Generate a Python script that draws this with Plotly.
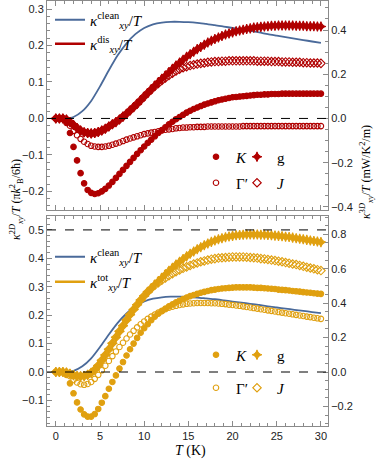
import plotly.graph_objects as go

# temperature grid of the symbol series (K)
T = [0.0, 0.4, 0.8, 1.2, 1.6, 2.0, 2.4, 2.8, 3.2, 3.6,
     4.0, 4.4, 4.8, 5.2, 5.6, 6.0, 6.4, 6.8, 7.2, 7.6,
     8.0, 8.4, 8.8, 9.2, 9.6, 10.0, 10.4, 10.8, 11.2, 11.6,
     12.0, 12.4, 12.8, 13.2, 13.6, 14.0, 14.4, 14.8, 15.2, 15.6,
     16.0, 16.4, 16.8, 17.2, 17.6, 18.0, 18.4, 18.8, 19.2, 19.6,
     20.0, 20.4, 20.8, 21.2, 21.6, 22.0, 22.4, 22.8, 23.2, 23.6,
     24.0, 24.4, 24.8, 25.2, 25.6, 26.0, 26.4, 26.8, 27.2, 27.6,
     28.0, 28.4, 28.8, 29.2, 29.6, 30.0]

# clean curve (same in both panels)
T_CLEAN = [0, 1, 2, 3, 4, 5, 6, 7, 8, 9, 10, 11, 12, 13, 14, 15, 16, 17, 18, 19,
           20, 21, 22, 23, 24, 25, 26, 27, 28, 29, 30]
CLEAN = [0.0, 0.0, 0.004, 0.02, 0.048, 0.088, 0.132, 0.173, 0.206, 0.231,
         0.248, 0.258, 0.263, 0.265, 0.265, 0.264, 0.262, 0.259, 0.256, 0.252,
         0.248, 0.244, 0.24, 0.236, 0.231, 0.227, 0.223, 0.219, 0.215, 0.211, 0.207]

# top panel: kappa_dis / T, in units of pi kB^2 / 6 hbar
K_DIS = [0, 0, 0, -0.012, -0.04, -0.078, -0.115, -0.15, -0.178, -0.196,
         -0.204, -0.207, -0.205, -0.2, -0.193, -0.184, -0.174, -0.163, -0.152, -0.141,
         -0.13, -0.119, -0.108, -0.097, -0.087, -0.077, -0.067, -0.058, -0.049, -0.04,
         -0.032, -0.024, -0.016, -0.009, -0.002, 0.004, 0.01, 0.016, 0.021, 0.026,
         0.03, 0.034, 0.038, 0.041, 0.044, 0.047, 0.05, 0.052, 0.054, 0.056,
         0.058, 0.059, 0.06, 0.061, 0.062, 0.063, 0.064, 0.065, 0.065, 0.066,
         0.066, 0.067, 0.067, 0.067, 0.068, 0.068, 0.068, 0.068, 0.068, 0.068,
         0.068, 0.068, 0.068, 0.068, 0.068, 0.068]
GP_DIS = [0, 0, -0.001, -0.008, -0.02, -0.034, -0.046, -0.056, -0.064, -0.07,
          -0.075, -0.077, -0.078, -0.078, -0.077, -0.075, -0.072, -0.069, -0.066, -0.062,
          -0.058, -0.055, -0.052, -0.049, -0.046, -0.043, -0.041, -0.039, -0.037, -0.035,
          -0.033, -0.031, -0.03, -0.029, -0.027, -0.026, -0.025, -0.025, -0.024, -0.024,
          -0.023, -0.023, -0.023, -0.022, -0.022, -0.022, -0.022, -0.022, -0.022, -0.022,
          -0.022, -0.022, -0.022, -0.021, -0.021, -0.021, -0.021, -0.021, -0.021, -0.021,
          -0.021, -0.021, -0.021, -0.021, -0.021, -0.021, -0.021, -0.021, -0.021, -0.021,
          -0.021, -0.021, -0.021, -0.021, -0.021, -0.021]
G_DIS = [0, 0, 0, -0.003, -0.01, -0.018, -0.026, -0.033, -0.038, -0.04,
         -0.041, -0.04, -0.037, -0.033, -0.028, -0.022, -0.016, -0.01, -0.003, 0.005,
         0.013, 0.022, 0.031, 0.04, 0.05, 0.06, 0.07, 0.08, 0.09, 0.1,
         0.109, 0.118, 0.127, 0.136, 0.145, 0.153, 0.161, 0.169, 0.176, 0.183,
         0.19, 0.196, 0.202, 0.208, 0.213, 0.218, 0.222, 0.226, 0.23, 0.233,
         0.236, 0.239, 0.241, 0.243, 0.245, 0.247, 0.249, 0.25, 0.251, 0.252,
         0.253, 0.254, 0.254, 0.255, 0.255, 0.255, 0.255, 0.255, 0.254, 0.254,
         0.254, 0.253, 0.253, 0.253, 0.252, 0.252]
J_DIS = [0, 0, 0, -0.003, -0.01, -0.018, -0.026, -0.033, -0.038, -0.04,
         -0.041, -0.04, -0.037, -0.033, -0.028, -0.022, -0.016, -0.01, -0.003, 0.005,
         0.013, 0.022, 0.031, 0.04, 0.05, 0.06, 0.07, 0.079, 0.088, 0.096,
         0.104, 0.111, 0.118, 0.124, 0.13, 0.135, 0.139, 0.142, 0.145, 0.147,
         0.149, 0.151, 0.152, 0.154, 0.155, 0.156, 0.156, 0.157, 0.157, 0.158,
         0.158, 0.158, 0.158, 0.158, 0.158, 0.158, 0.158, 0.157, 0.157, 0.157,
         0.157, 0.156, 0.156, 0.156, 0.155, 0.155, 0.155, 0.154, 0.154, 0.154,
         0.153, 0.153, 0.152, 0.152, 0.152, 0.151]

# bottom panel: kappa_tot / T
K_TOT = [0, 0, 0, -0.01, -0.04, -0.075, -0.107, -0.132, -0.149, -0.157,
         -0.157, -0.148, -0.13, -0.108, -0.085, -0.059, -0.035, -0.012, 0.012, 0.035,
         0.058, 0.08, 0.1, 0.12, 0.138, 0.154, 0.168, 0.182, 0.195, 0.205,
         0.214, 0.223, 0.231, 0.238, 0.245, 0.251, 0.257, 0.262, 0.267, 0.271,
         0.275, 0.279, 0.282, 0.285, 0.288, 0.29, 0.292, 0.294, 0.295, 0.296,
         0.297, 0.298, 0.298, 0.298, 0.298, 0.298, 0.297, 0.296, 0.296, 0.295,
         0.294, 0.293, 0.292, 0.29, 0.289, 0.288, 0.287, 0.285, 0.284, 0.283,
         0.281, 0.28, 0.279, 0.277, 0.276, 0.275]
GP_TOT = [0, 0, 0, -0.004, -0.015, -0.028, -0.037, -0.043, -0.045, -0.042,
          -0.035, -0.024, -0.01, 0.006, 0.022, 0.039, 0.056, 0.072, 0.088, 0.103,
          0.118, 0.132, 0.145, 0.157, 0.168, 0.178, 0.187, 0.195, 0.202, 0.209,
          0.215, 0.221, 0.226, 0.23, 0.233, 0.236, 0.238, 0.24, 0.241, 0.242,
          0.243, 0.243, 0.243, 0.243, 0.242, 0.242, 0.241, 0.24, 0.239, 0.237,
          0.236, 0.234, 0.233, 0.231, 0.229, 0.227, 0.225, 0.223, 0.221, 0.219,
          0.217, 0.215, 0.213, 0.211, 0.209, 0.207, 0.205, 0.203, 0.201, 0.199,
          0.197, 0.195, 0.193, 0.191, 0.189, 0.187]
G_TOT = [0, 0, 0, -0.002, -0.006, -0.011, -0.014, -0.015, -0.014, -0.01,
         -0.003, 0.008, 0.023, 0.041, 0.06, 0.08, 0.101, 0.122, 0.143, 0.163,
         0.183, 0.202, 0.22, 0.237, 0.253, 0.268, 0.282, 0.295, 0.308, 0.32,
         0.332, 0.344, 0.356, 0.367, 0.378, 0.388, 0.398, 0.407, 0.416, 0.424,
         0.432, 0.439, 0.446, 0.452, 0.458, 0.463, 0.467, 0.471, 0.474, 0.477,
         0.479, 0.481, 0.482, 0.483, 0.484, 0.484, 0.484, 0.484, 0.483, 0.483,
         0.482, 0.481, 0.48, 0.479, 0.478, 0.476, 0.475, 0.473, 0.471, 0.469,
         0.467, 0.465, 0.463, 0.461, 0.459, 0.457]
J_TOT = [0, 0, 0, -0.002, -0.006, -0.011, -0.014, -0.015, -0.014, -0.01,
         -0.003, 0.008, 0.023, 0.041, 0.06, 0.08, 0.101, 0.122, 0.143, 0.163,
         0.183, 0.202, 0.22, 0.237, 0.253, 0.268, 0.282, 0.294, 0.305, 0.314,
         0.323, 0.331, 0.339, 0.346, 0.353, 0.359, 0.365, 0.37, 0.375, 0.38,
         0.384, 0.388, 0.391, 0.394, 0.397, 0.399, 0.401, 0.402, 0.403, 0.404,
         0.405, 0.405, 0.405, 0.405, 0.404, 0.403, 0.402, 0.401, 0.399, 0.398,
         0.396, 0.394, 0.392, 0.39, 0.388, 0.385, 0.383, 0.38, 0.378, 0.375,
         0.372, 0.369, 0.366, 0.363, 0.36, 0.357]

for series in (K_DIS, GP_DIS, G_DIS, J_DIS, K_TOT, GP_TOT, G_TOT, J_TOT):
    assert len(series) == len(T), len(series)

TO_3D = 1.65  # 2D units -> mW/K^2/m
TOP_RANGE = [-0.251, 0.322]
BOT_RANGE = [-0.19, 0.549]

BLUE = "#4A6A9A"
RED = "#B00000"
GOLD = "#E0A010"
FRAME = "#8a8a8a"
SERIF = "Liberation Serif"
SANS = "Liberation Sans"

# plot area in pixels, used to place the in-plot legends and titles
PL, PR, PT, PB = 47, 328, 1, 426


def px(x):
    return (x - PL) / (PR - PL)


def py(y):
    return (PB - y) / (PB - PT)


fig = go.Figure()


def add_panel(xa, ya, ya_right, color, k, g, gp, j, label, legs):
    fig.add_trace(go.Scatter(
        x=T_CLEAN, y=CLEAN, mode="lines", xaxis=xa, yaxis=ya,
        line=dict(color=BLUE, width=1.8, shape="spline", smoothing=0.6),
        name="<i>κ</i><sup>clean</sup><sub><i>xy</i></sub>/<i>T</i>",
        legend=legs[0]))
    # legend-only entry for the symbol family
    fig.add_trace(go.Scatter(
        x=[None], y=[None], mode="lines", xaxis=xa, yaxis=ya,
        line=dict(color=color, width=2.6),
        name=f"<i>κ</i><sup>{label}</sup><sub><i>xy</i></sub>/<i>T</i>",
        legend=legs[1]))
    specs = [
        (k, "circle", 5.5, "<i>K</i>", legs[2]),
        (g, "star-diamond", 7, "g", legs[3]),
        (gp, "circle-open", 5.5, "Γ′", legs[4]),
        (j, "diamond-open", 6.5, "<i>J</i>", legs[5]),
    ]
    for vals, sym, size, name, leg in specs:
        fig.add_trace(go.Scatter(
            x=T, y=vals, mode="markers", xaxis=xa, yaxis=ya, name=name, legend=leg,
            marker=dict(symbol=sym, size=size, color=color,
                        line=dict(color=color, width=1.1))))
    # empty trace so the right-hand (3D units) axis gets drawn
    fig.add_trace(go.Scatter(x=[None], y=[None], xaxis=xa, yaxis=ya_right,
                             showlegend=False, hoverinfo="skip"))


add_panel("x2", "y3", "y4", RED, K_DIS, G_DIS, GP_DIS, J_DIS, "dis",
          ["legend", "legend2", "legend3", "legend4", "legend5", "legend6"])
add_panel("x", "y", "y2", GOLD, K_TOT, G_TOT, GP_TOT, J_TOT, "tot",
          ["legend7", "legend8", "legend9", "legend10", "legend11", "legend12"])


def legend_at(x, y):
    return dict(x=px(x), y=py(y), xanchor="left", yanchor="middle",
                bgcolor="rgba(0,0,0,0)", borderwidth=0, itemwidth=30,
                font=dict(family=SERIF, size=15, color="black"))


# marker of a legend entry sits ~20 px right of the legend's left edge
legend_pos = {
    "legend": (50, 20), "legend2": (50, 44),
    "legend3": (196, 157), "legend4": (237, 157),
    "legend5": (196, 183), "legend6": (237, 183),
    "legend7": (50, 257), "legend8": (50, 282),
    "legend9": (196, 355), "legend10": (237, 355),
    "legend11": (196, 388), "legend12": (237, 388),
}

tick_font = dict(family=SANS, size=11, color="#222")
common = dict(showline=True, linecolor=FRAME, linewidth=1, ticks="inside",
              ticklen=5, tickcolor=FRAME, showgrid=False, zeroline=False,
              tickfont=tick_font)

x_common = dict(common, range=[-1, 30.8], tick0=0, dtick=5, mirror="ticks",
                minor=dict(dtick=1, ticklen=3, ticks="inside", tickcolor=FRAME))


def y_left(rng, domain):
    return dict(common, range=rng, domain=domain, dtick=0.1, tick0=0,
                tickformat=".1f",
                minor=dict(dtick=0.02, ticklen=3, ticks="inside", tickcolor=FRAME))


def y_right(rng, over, anchor):
    return dict(common, range=[rng[0] * TO_3D, rng[1] * TO_3D], overlaying=over,
                side="right", anchor=anchor, dtick=0.2, tick0=0, tickformat=".1f",
                minor=dict(dtick=0.05, ticklen=3, ticks="inside", tickcolor=FRAME))


fig.update_layout(
    width=377, height=460,
    margin=dict(l=PL, r=377 - PR, t=PT, b=460 - PB),
    paper_bgcolor="white", plot_bgcolor="white",
    showlegend=True,
    xaxis=dict(x_common, anchor="y", domain=[0, 1]),
    xaxis2=dict(x_common, anchor="y3", matches="x", showticklabels=False),
    yaxis=y_left(BOT_RANGE, [0, py(216)]),
    yaxis2=y_right(BOT_RANGE, "y", "x"),
    yaxis3=y_left(TOP_RANGE, [py(210), 1]),
    yaxis4=y_right(TOP_RANGE, "y3", "x2"),
    **{name: legend_at(*pos) for name, pos in legend_pos.items()},
)

# dashed reference lines
for yref, yv in (("y3", 0), ("y", 0), ("y", 0.5)):
    fig.add_shape(type="line", xref="x domain", yref=yref, x0=0, x1=1, y0=yv, y1=yv,
                  line=dict(color="black", width=1, dash="dash"))

# axis titles
title_font = dict(family=SERIF, size=12, color="black")
fig.add_annotation(
    xref="paper", yref="paper", x=px(16), y=py(200), xanchor="center", yanchor="middle",
    textangle=-90, showarrow=False, font=title_font,
    text="<i>κ</i><sup>2<i>D</i></sup><sub><i>xy</i></sub>/<i>T</i> (π<i>k</i><sup>2</sup><sub>B</sub>/6ħ)")
fig.add_annotation(
    xref="paper", yref="paper", x=px(366), y=py(172), xanchor="center", yanchor="middle",
    textangle=-90, showarrow=False, font=title_font,
    text="<i>κ</i><sup>3<i>D</i></sup><sub><i>xy</i></sub>/<i>T</i> (mW/K<sup>2</sup>/m)")
fig.add_annotation(
    xref="paper", yref="paper", x=px(190), y=py(451), xanchor="center", yanchor="middle",
    showarrow=False, text="<i>T</i> (K)", font=dict(family=SERIF, size=14, color="black"))

# the page body has a default margin; remove it so the figure sits at the top-left
fig.write_html("out.html", config={"displayModeBar": False},
               post_script="document.body.style.margin = '0px';")
